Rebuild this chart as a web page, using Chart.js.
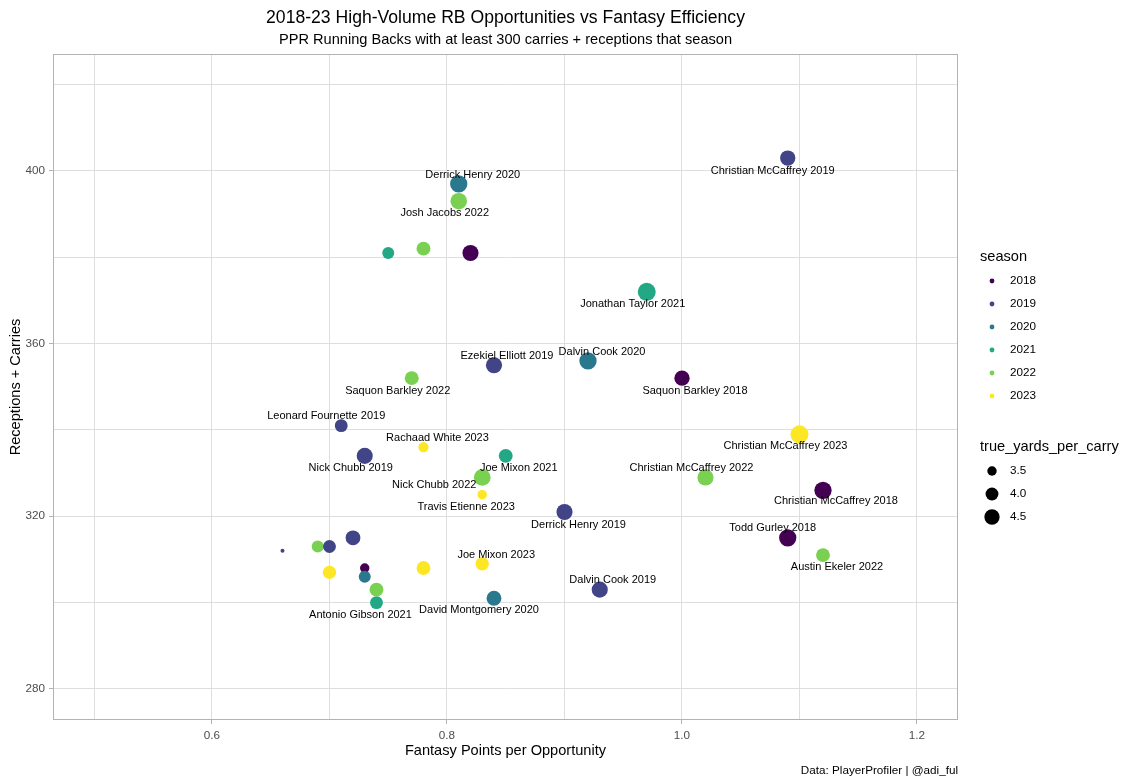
<!DOCTYPE html>
<html>
<head>
<meta charset="utf-8">
<title>2018-23 High-Volume RB Opportunities vs Fantasy Efficiency</title>
<script src="https://cdn.jsdelivr.net/npm/chart.js@4.4.1/dist/chart.umd.min.js"></script>
<style>
  html, body { margin: 0; padding: 0; background: #ffffff; }
  canvas { display: block; }
</style>
</head>
<body>
<canvas id="chart" width="1134" height="784"></canvas>
<script>
// ── Data ──
var labels = [
    'Christian McCaffrey 2019', 'Derrick Henry 2020', 'Josh Jacobs 2022', '', '', '',
    'Jonathan Taylor 2021', 'Dalvin Cook 2020', 'Ezekiel Elliott 2019', 'Saquon Barkley 2018',
    'Saquon Barkley 2022', 'Leonard Fournette 2019', 'Christian McCaffrey 2023', 'Rachaad White 2023',
    'Nick Chubb 2019', 'Joe Mixon 2021', 'Nick Chubb 2022', 'Christian McCaffrey 2022',
    'Travis Etienne 2023', 'Christian McCaffrey 2018', 'Derrick Henry 2019', 'Todd Gurley 2018',
    'Austin Ekeler 2022', 'Dalvin Cook 2019', 'Joe Mixon 2023', 'David Montgomery 2020',
    'Antonio Gibson 2021', '', '', '', '', '', '', '', '', ''
];
var seasons = [
    2019, 2020, 2022, 2021, 2022, 2018,
    2021, 2020, 2019, 2018,
    2022, 2019, 2023, 2023,
    2019, 2021, 2022, 2022,
    2023, 2018, 2019, 2018,
    2022, 2019, 2023, 2020,
    2021, 2019, 2022, 2019, 2019, 2018, 2023, 2020, 2022, 2023
];
var pointsPerOpp = [
    1.09, 0.81, 0.81, 0.75, 0.78, 0.82,
    0.97, 0.92, 0.84, 1.00,
    0.77, 0.71, 1.10, 0.78,
    0.73, 0.85, 0.83, 1.02,
    0.83, 1.12, 0.90, 1.09,
    1.12, 0.93, 0.83, 0.84,
    0.74, 0.66, 0.69, 0.70, 0.72, 0.73, 0.70, 0.73, 0.74, 0.78
];
var opportunities = [
    403, 397, 393, 381, 382, 381,
    372, 356, 355, 352,
    352, 341, 339, 336,
    334, 334, 329, 329,
    325, 326, 321, 315,
    311, 303, 309, 301,
    300, 312, 313, 313, 315, 308, 307, 306, 303, 308
];
var trueYpc = [
    4.5, 5.0, 4.8, 3.85, 4.2, 4.7,
    5.2, 5.0, 4.7, 4.5,
    4.2, 4.0, 5.2, 3.6,
    4.7, 4.2, 4.85, 4.7,
    3.5, 5.0, 4.7, 5.0,
    4.2, 4.7, 4.1, 4.4,
    4.0, 3.2, 3.85, 4.0, 4.4, 3.5, 4.1, 3.85, 4.2, 4.2
];

var seasonList = [2018, 2019, 2020, 2021, 2022, 2023];
var sizeBreaks = [3.5, 4.0, 4.5];
var sizeBreakLabels = ['3.5', '4.0', '4.5'];

var xMajorTicks = [0.6, 0.8, 1.0, 1.2];
var xMinorTicks = [0.5, 0.7, 0.9, 1.1];
var xTickLabels = ['0.6', '0.8', '1.0', '1.2'];
var yMajorTicks = [280, 320, 360, 400];
var yMinorTicks = [300, 340, 380, 420];
var yTickLabels = ['280', '320', '360', '400'];

// ── Styles ──
var seasonColors = ['#440154', '#414487', '#2A788E', '#22A884', '#7AD151', '#FDE725'];
var FONT = '"Liberation Sans", Arial, sans-serif';
var GRID = '#dedede';
var BORDER = '#b3b3b3';
var TICK_TEXT = '#4d4d4d';

// label placement relative to its point, in pixels (ggrepel-like)
var labelOffsets = {
    'Christian McCaffrey 2019': [-15, 13], 'Derrick Henry 2020': [14, -9], 'Josh Jacobs 2022': [-14, 12],
    'Jonathan Taylor 2021': [-14, 12], 'Dalvin Cook 2020': [14, -9], 'Ezekiel Elliott 2019': [13, -9],
    'Saquon Barkley 2018': [13, 13], 'Saquon Barkley 2022': [-14, 13], 'Leonard Fournette 2019': [-15, -10],
    'Christian McCaffrey 2023': [-14, 12], 'Rachaad White 2023': [14, -9], 'Nick Chubb 2019': [-14, 12],
    'Joe Mixon 2021': [13, 12], 'Nick Chubb 2022': [-48, 8], 'Christian McCaffrey 2022': [-14, -9],
    'Travis Etienne 2023': [-16, 12], 'Christian McCaffrey 2018': [13, 11], 'Derrick Henry 2019': [14, 13],
    'Todd Gurley 2018': [-15, -10], 'Austin Ekeler 2022': [14, 12], 'Dalvin Cook 2019': [13, -10],
    'Joe Mixon 2023': [14, -9], 'David Montgomery 2020': [-15, 12], 'Antonio Gibson 2021': [-16, 12]
};

// ggplot-like area scale: size 1..6 from min..max of the data
var ypcMin = Math.min.apply(null, trueYpc);
var ypcMax = Math.max.apply(null, trueYpc);
function radiusFor(v) {
    var t = Math.max(0, (v - ypcMin) / (ypcMax - ypcMin));
    var size = 1 + 5 * Math.sqrt(t);
    return (2.8 * size + 1.2) / 2;
}

var points = pointsPerOpp.map(function(x, i) {
    return { x: x, y: opportunities[i], ypc: trueYpc[i], season: seasons[i], label: labels[i] };
});

var isMajor = function(list, v) {
    return list.some(function(m) { return Math.abs(m - v) < 1e-9; });
};

// ── Titles, caption, point labels, panel border, legends ──
var decorPlugin = {
    id: 'decor',
    beforeDatasetsDraw: function(chart) {
        var a = chart.chartArea, ctx = chart.ctx;
        ctx.save();
        ctx.strokeStyle = BORDER;
        ctx.lineWidth = 1;
        ctx.strokeRect(Math.round(a.left) + 0.5, Math.round(a.top) + 0.5,
            Math.round(a.right - a.left) - 1, Math.round(a.bottom - a.top) - 1);
        ctx.restore();
    },
    afterDatasetsDraw: function(chart) {
        var ctx = chart.ctx, a = chart.chartArea;
        var meta = chart.getDatasetMeta(0);
        ctx.save();
        ctx.font = '11px ' + FONT;
        ctx.fillStyle = '#000000';
        ctx.textAlign = 'center';
        ctx.textBaseline = 'middle';
        points.forEach(function(p, i) {
            if (!p.label) return;
            var off = labelOffsets[p.label] || [0, -12];
            var el = meta.data[i];
            ctx.fillText(p.label, el.x + off[0], el.y + off[1]);
        });

        var cx = (a.left + a.right) / 2;
        ctx.font = '17.6px ' + FONT;
        ctx.fillText('2018-23 High-Volume RB Opportunities vs Fantasy Efficiency', cx, 18);
        ctx.font = '14.6px ' + FONT;
        ctx.fillText('PPR Running Backs with at least 300 carries + receptions that season', cx, 40);

        ctx.textAlign = 'right';
        ctx.font = '11.7px ' + FONT;
        ctx.fillText('Data: PlayerProfiler | @adi_ful', a.right, 771);

        // season legend
        var lx = 980;
        ctx.textAlign = 'left';
        ctx.font = '14.6px ' + FONT;
        ctx.fillText('season', lx, 257);
        ctx.font = '11.7px ' + FONT;
        seasonList.forEach(function(s, k) {
            var y = 281 + k * 23;
            ctx.fillStyle = seasonColors[k];
            ctx.beginPath();
            ctx.arc(992, y, 2.4, 0, Math.PI * 2);
            ctx.fill();
            ctx.fillStyle = '#000000';
            ctx.fillText(String(s), 1010, y);
        });

        // size legend
        ctx.font = '14.6px ' + FONT;
        ctx.fillText('true_yards_per_carry', lx, 447);
        ctx.font = '11.7px ' + FONT;
        sizeBreaks.forEach(function(v, k) {
            var y = 471 + k * 23;
            ctx.fillStyle = '#000000';
            ctx.beginPath();
            ctx.arc(992, y, radiusFor(v), 0, Math.PI * 2);
            ctx.fill();
            ctx.fillText(sizeBreakLabels[k], 1010, y);
        });
        ctx.restore();
    }
};

new Chart(document.getElementById('chart').getContext('2d'), {
    type: 'scatter',
    data: {
        datasets: [{
            data: points,
            pointRadius: function(c) { return c.raw ? radiusFor(c.raw.ypc) : 3; },
            backgroundColor: function(c) {
                return c.raw ? seasonColors[seasonList.indexOf(c.raw.season)] : '#000';
            },
            borderWidth: 0,
            pointHoverRadius: function(c) { return c.raw ? radiusFor(c.raw.ypc) : 3; }
        }]
    },
    options: {
        responsive: false,
        devicePixelRatio: 1,
        animation: false,
        events: [],
        layout: { padding: { left: 0, top: 54, right: 176, bottom: 0 } },
        plugins: { legend: { display: false }, tooltip: { enabled: false }, title: { display: false } },
        scales: {
            x: {
                type: 'linear',
                min: 0.4647,
                max: 1.2349,
                afterBuildTicks: function(s) {
                    s.ticks = xMinorTicks.concat(xMajorTicks).sort().map(function(v) { return { value: v }; });
                },
                afterFit: function(s) { s.height = 64; },
                border: { display: false },
                grid: {
                    color: GRID,
                    lineWidth: 1,
                    tickLength: 4,
                    tickWidth: 1,
                    tickColor: function(c) { return c.tick && isMajor(xMajorTicks, c.tick.value) ? BORDER : 'rgba(0,0,0,0)'; }
                },
                ticks: {
                    color: TICK_TEXT,
                    font: { family: FONT, size: 11.7 },
                    padding: 5,
                    maxRotation: 0,
                    autoSkip: false,
                    callback: function(v) {
                        var k = xMajorTicks.findIndex(function(m) { return Math.abs(m - v) < 1e-9; });
                        return k >= 0 ? xTickLabels[k] : '';
                    }
                },
                title: {
                    display: true,
                    text: 'Fantasy Points per Opportunity',
                    color: '#000000',
                    font: { family: FONT, size: 14.6 },
                    padding: { top: 0, bottom: 24 }
                }
            },
            y: {
                type: 'linear',
                min: 272.8,
                max: 427.1,
                afterBuildTicks: function(s) {
                    s.ticks = yMajorTicks.concat(yMinorTicks).sort().map(function(v) { return { value: v }; });
                },
                afterFit: function(s) { s.width = 53; },
                border: { display: false },
                grid: {
                    color: GRID,
                    lineWidth: 1,
                    tickLength: 4,
                    tickWidth: 1,
                    tickColor: function(c) { return c.tick && isMajor(yMajorTicks, c.tick.value) ? BORDER : 'rgba(0,0,0,0)'; }
                },
                ticks: {
                    color: TICK_TEXT,
                    font: { family: FONT, size: 11.7 },
                    padding: 4,
                    autoSkip: false,
                    callback: function(v) {
                        var k = yMajorTicks.indexOf(v);
                        return k >= 0 ? yTickLabels[k] : '';
                    }
                },
                title: {
                    display: true,
                    text: 'Receptions + Carries',
                    color: '#000000',
                    font: { family: FONT, size: 14.6 },
                    padding: { top: 7, bottom: 0 }
                }
            }
        }
    },
    plugins: [decorPlugin]
});
</script>
</body>
</html>
